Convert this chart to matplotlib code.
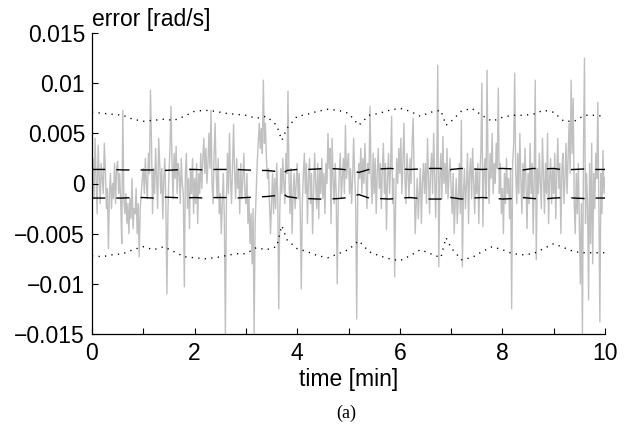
import numpy as np
import matplotlib
matplotlib.use("Agg")
import matplotlib.pyplot as plt

# ---------------- data (error in 1e-3 rad/s, sampled every 0.02 min) ----------------
err_milli = [
    1.0, 2.5, -1.5, 4.5, 0.5, -3.0, 3.8, 1.0, -2.0, 2.0, 0.5, -1.0, 4.0, 1.5, -2.5, -0.5, -6.5, -1.0, 1.0, -2.5, 0.0, -1.5, 2.0, -2.0, 1.5,
    2.2, -1.0, 1.0, -2.0, -6.0, 7.3, -1.5, -3.0, -1.0, -4.0, -2.0, -5.0, -1.5, -3.5, 0.5, -4.5, -2.5, -3.0, -0.5, -5.0, -2.0, -7.3, -2.5, -1.0, 0.5,
    1.5, -1.0, 2.5, 0.0, -1.5, 3.0, 1.0, 9.3, 4.0, -3.0, 1.5, -1.0, 3.5, 0.5, -2.5, 4.5, 2.0, -1.0, 1.5, -3.5, 0.5, 2.5, -2.0, -11.0, -3.0,
    1.0, 3.5, 7.7, 2.0, -1.5, 3.0, 0.5, 3.7, -1.0, 2.0, 1.0, -2.0, 2.5, 0.0, -1.0, -10.3, 1.0, 3.0, -2.5, 0.5, -4.5, 1.5, -1.0, 2.5, -3.0,
    0.5, -2.0, 2.0, -4.0, 1.0, -1.0, 3.0, -0.5, 2.5, 4.5, 1.0, 3.5, 0.0, 2.0, 5.0, 1.5, 7.3, 0.0, -2.0, 3.0, 6.0, 1.0, -1.5, 2.5, -3.0,
    -1.0, -5.0, -2.0, 1.0, -3.5, -15.0, -2.0, 3.0, -1.0, 5.0, 0.5, -2.0, 2.0, 5.9, 1.0, -1.5, 2.5, -0.5, 1.5, -3.0, 2.0, -1.5, 0.5, 3.0, -1.0,
    -2.0, 1.0, -4.0, -1.5, -6.0, -3.0, -8.0, -2.5, -15.0, -4.0, -1.0, 2.0, 4.0, 6.0, 3.5, 5.5, 3.0, 10.3, 4.0, 6.0, 2.5, 0.5, 1.5, -2.0, -5.0,
    -2.0, 1.0, -3.0, 0.5, -2.5, 2.0, -1.0, -12.5, -3.0, 1.5, -1.0, 2.5, 0.0, -2.0, 3.0, 1.0, 9.2, 0.5, -3.0, 1.5, -5.0, -1.0, 1.0, -2.5, 0.0,
    2.0, -1.5, 1.0, -3.0, -10.5, -2.0, 1.0, 3.0, -1.0, 2.0, -4.0, 0.5, 2.5, -2.0, 1.0, -5.0, -1.0, 3.0, 0.0, -2.5, 2.0, -3.5, 1.5, -1.0, 2.5,
    -1.5, 1.0, -3.0, 2.0, 0.0, 5.0, 1.5, 3.5, -4.0, 4.5, 0.5, -2.0, 2.0, -1.0, -10.0, -2.0, 1.0, 3.0, -1.5, 0.5, 2.5, -1.0, 5.8, 0.5, 2.0,
    3.0, -1.0, 1.5, -2.0, 0.5, 4.5, 1.0, -2.0, -13.5, -1.0, 2.0, 0.5, 3.5, -1.0, 2.5, 0.0, 4.0, 1.0, -2.5, 2.0, 1.0, 7.7, 0.5, -2.0, 3.0,
    -1.0, 2.5, -3.0, 1.0, 3.5, -0.5, 2.0, -2.5, 1.5, 4.0, -1.0, 2.0, -4.6, 0.5, 3.0, -1.0, 1.5, 6.7, -2.0, 0.5, -9.3, -1.5, 2.5, 0.0, 3.5,
    1.0, 4.5, -1.0, 2.0, 6.0, 0.5, -2.0, 3.0, 1.0, -1.5, 2.5, 0.0, 4.0, 6.5, 1.0, -5.0, -2.0, 0.5, -3.5, -1.0, 1.5, -4.0, 0.0, 2.0, -1.0,
    2.0, -2.0, 4.5, 0.5, -3.0, 1.5, 3.0, -1.0, 5.0, 1.0, -3.4, 2.0, 11.8, -8.3, 0.5, 3.0, -1.5, 4.7, 0.0, 2.0, -1.0, 3.5, -1.5, 1.0, 2.5,
    -0.5, -3.0, 1.0, -5.0, -2.0, 0.5, -4.0, -1.5, 2.0, -3.0, 6.3, -8.3, -1.0, 1.5, -2.5, 0.0, 3.0, -4.0, 1.0, 2.5, -1.5, 3.5, 0.0, -3.0, 1.5,
    -1.0, 2.0, -4.0, 1.0, 3.0, 10.0, -4.3, 1.0, 2.5, -1.5, 11.3, 1.5, -2.0, 3.0, 0.5, 5.0, -1.0, 2.0, 0.0, 4.0, 1.5, 9.5, -1.0, 2.0, -3.0,
    -0.5, -5.0, 1.0, -2.0, 2.5, -1.0, 0.5, -3.5, 1.5, -12.5, 2.0, 4.0, 11.0, 1.0, -2.0, 3.0, -1.0, 5.0, 0.5, -3.0, 2.0, -1.5, 3.5, 0.0, -4.5,
    1.0, -2.0, 4.0, -1.0, 2.0, -5.0, 0.5, 10.3, -7.6, 1.5, -1.0, 3.0, 0.0, -2.5, 4.5, 1.0, -3.0, 2.0, -1.0, 5.0, -4.0, 0.5, 2.5, -2.0, 1.5,
    -1.0, 3.0, -3.5, 1.0, 4.5, -0.5, 2.0, -5.0, 1.5, 3.0, -2.0, 0.5, 4.0, -1.0, 2.5, 6.0, 1.0, 10.3, 3.0, 8.5, -2.0, -5.0, 1.0, -3.0, 2.0,
    -4.0, -10.0, -2.0, -15.0, 3.0, 12.5, -4.0, 1.0, -2.0, -11.6, 2.0, -6.0, 4.0, -8.0, 1.0, -2.5, 3.0, 0.5, 8.1, -2.0, -13.8, 1.0, -3.0, 3.3, -1.0, 0.6,
]

t_env = [0.0, 0.2, 0.4, 0.6, 0.8, 1.0, 1.2, 1.4, 1.6, 1.8, 2.0, 2.2, 2.4, 2.6, 2.8, 3.0, 3.2, 3.4, 3.6, 3.7,
         3.8, 4.0, 4.2, 4.4, 4.6, 4.8, 5.0, 5.2, 5.4, 5.6, 5.8, 6.0, 6.2, 6.4, 6.6, 6.8, 6.9,
         7.0, 7.2, 7.4, 7.6, 7.8, 8.0, 8.2, 8.4, 8.6, 8.8, 9.0, 9.2, 9.4, 9.6, 9.8, 10.0]

outer_hi_milli = [7.1, 7.0, 6.9, 6.8, 6.4, 6.2, 6.3, 6.4, 6.3, 6.7, 7.2, 7.3, 7.2, 7.0, 6.9, 6.8, 6.5, 6.7, 5.8, 4.3,
                  5.5, 6.7, 6.9, 7.2, 7.4, 7.3, 7.0, 5.8, 6.8, 7.0, 7.3, 7.5, 7.2, 6.7, 7.1, 7.3, 5.8,
                  6.2, 7.2, 7.5, 6.8, 6.2, 6.6, 6.8, 6.8, 6.9, 7.3, 7.1, 6.2, 6.2, 6.8, 6.8, 6.7]
outer_lo_milli = [-7.2, -7.3, -7.1, -7.0, -6.6, -6.3, -6.6, -6.3, -6.8, -7.3, -7.4, -7.5, -7.4, -7.2, -7.0, -7.0, -6.4, -6.6, -6.3, -4.2,
                  -5.6, -6.5, -6.8, -7.2, -7.4, -7.0, -6.6, -5.7, -6.8, -7.2, -7.5, -7.7, -7.2, -6.6, -7.0, -7.4, -5.4,
                  -6.4, -7.6, -7.4, -6.8, -6.3, -6.6, -7.0, -7.1, -7.0, -6.5, -6.0, -6.4, -6.8, -6.9, -6.9, -6.9]
inner_hi_milli = [1.4, 1.4, 1.4, 1.35, 1.35, 1.35, 1.35, 1.3, 1.35, 1.4, 1.4, 1.35, 1.4, 1.4, 1.4, 1.35, 1.3, 1.3, 1.2, 0.9,
                  1.3, 1.4, 1.4, 1.45, 1.5, 1.45, 1.35, 1.1, 1.4, 1.45, 1.5, 1.45, 1.4, 1.45, 1.5, 1.5, 1.0,
                  1.4, 1.5, 1.45, 1.4, 1.45, 1.5, 1.45, 1.35, 1.5, 1.45, 1.5, 1.35, 1.4, 1.45, 1.4, 1.4]
inner_lo_milli = [-1.45, -1.45, -1.45, -1.45, -1.4, -1.4, -1.45, -1.35, -1.4, -1.45, -1.4, -1.45, -1.4, -1.4, -1.45, -1.4, -1.35, -1.3, -1.2, -0.9,
                  -1.3, -1.45, -1.5, -1.55, -1.55, -1.5, -1.4, -1.1, -1.45, -1.5, -1.55, -1.45, -1.4, -1.5, -1.55, -1.55, -1.1,
                  -1.4, -1.55, -1.45, -1.4, -1.45, -1.55, -1.5, -1.4, -1.5, -1.55, -1.45, -1.4, -1.45, -1.5, -1.45, -1.45]

x_ticks = [0, 1, 2, 3, 4, 5, 6, 7, 8, 9, 10]
x_tick_labels = ["0", "", "2", "", "4", "", "6", "", "8", "", "10"]
y_ticks = [-0.015, -0.01, -0.005, 0.0, 0.005, 0.01, 0.015]
y_tick_labels = ["\u22120.015", "\u22120.01", "\u22120.005", "0", "0.005", "0.01", "0.015"]

# ---------------- plot ----------------
plt.rcParams['font.family'] = ['Liberation Sans', 'DejaVu Sans']

err = np.array(err_milli) * 1e-3
t = np.linspace(0, 10, len(err))
te = np.array(t_env)

fig = plt.figure(figsize=(6.27, 4.32), dpi=100)
ax = fig.add_axes([92 / 627, 1 - 334 / 432, (605 - 92) / 627, (334 - 33) / 432])

ax.plot(t, err, color='#c0c0c0', lw=1.0, zorder=1)
dot_style = (0, (0.9, 3.8))
dash_style = (0, (9.5, 8.0))
ax.plot(te, np.array(outer_hi_milli) * 1e-3, color='black', lw=1.0, linestyle=dot_style, zorder=3)
ax.plot(te, np.array(outer_lo_milli) * 1e-3, color='black', lw=1.0, linestyle=dot_style, zorder=3)
ax.plot(te, np.array(inner_hi_milli) * 1e-3, color='black', lw=1.0, linestyle=dash_style, zorder=3)
ax.plot(te, np.array(inner_lo_milli) * 1e-3, color='black', lw=1.0, linestyle=dash_style, zorder=3)

ax.set_xlim(0, 10)
ax.set_ylim(-0.015, 0.015)
ax.set_xticks(x_ticks)
ax.set_xticklabels(x_tick_labels)
ax.set_yticks(y_ticks)
ax.set_yticklabels(y_tick_labels)
ax.spines['top'].set_visible(False)
ax.spines['right'].set_visible(False)
for s in ('left', 'bottom'):
    ax.spines[s].set_linewidth(0.9)
ax.tick_params(direction='in', length=4, width=0.8, labelsize=16.5)
ax.tick_params(axis='y', pad=5)
ax.tick_params(axis='x', pad=6)
ax.set_xlabel("time [min]", fontsize=16.5, labelpad=2)

fig.text(92 / 627, 1 - 26 / 432, "error [rad/s]", ha='left', va='baseline', fontsize=16.5)
fig.text(346 / 627, 1 - 413 / 432, "(a)", ha='center', va='center', fontsize=13,
         family=['Liberation Serif', 'DejaVu Serif'])

fig.savefig("out.png", dpi=100)
